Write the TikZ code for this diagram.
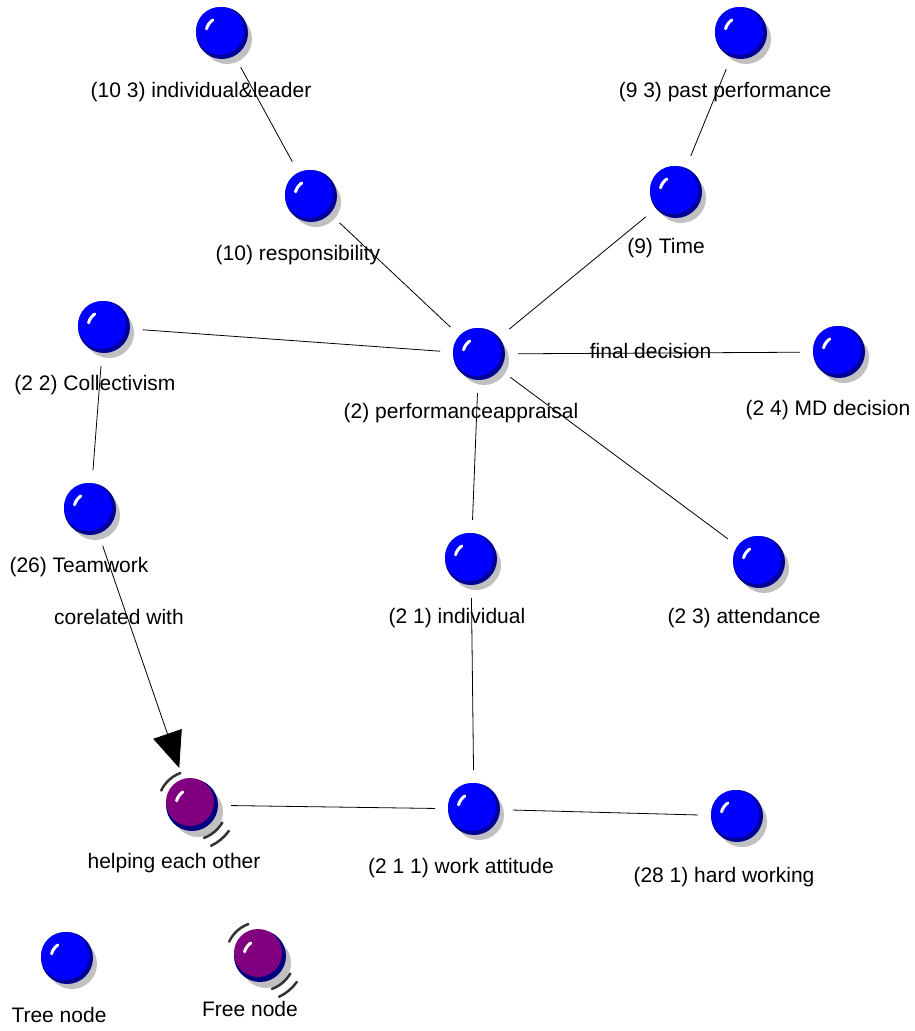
\documentclass[tikz,border=0pt]{standalone}
\usepackage{fontspec}
\setmainfont{Liberation Sans}
\usepackage{tikz}
\usetikzlibrary{calc,arrows.meta}
\definecolor{ballblue}{RGB}{0,0,255}
\definecolor{rimblue}{RGB}{0,0,150}
\definecolor{freepurple}{RGB}{128,0,128}
\definecolor{freerim}{RGB}{0,0,128}
\definecolor{shadowgray}{RGB}{192,192,192}

\begin{document}
\begin{tikzpicture}[x=1pt, y=-1pt,
        line cap=round, line join=round,
        ball/.style={circle, minimum size=78pt, inner sep=0pt},
        lbl/.style={font=\fontsize{21}{23}\selectfont, inner sep=0pt,
            text height=15.2pt, text depth=4.4pt},
        link/.style={black, line width=0.8pt},
        corr/.style={link, -{Triangle[length=36pt,width=30pt]}}]
        \useasboundingbox (0,0) rectangle (914,1031);

        \def\drawTreeBall#1{ % shadow, dark rim, blue ball and shine
        \fill[shadowgray] ($(#1)+(5,6)$) circle (25);
        \fill[rimblue] (#1) circle (26);
        \fill[ballblue] ($(#1)+(-2,-2)$) circle (24);
        \draw[white, line width=3pt] ($(#1)+(195:16)$) arc[start angle=195, end angle=235, radius=16];
        }
        \def\drawFreeBall#1{ % same ball in purple, with motion arcs
        \fill[shadowgray] ($(#1)+(6,7)$) circle (25);
        \fill[freerim] (#1) circle (26);
        \fill[freepurple] ($(#1)+(-2,-3)$) circle (24);
        \draw[white, line width=3pt] ($(#1)+(195:16)$) arc[start angle=195, end angle=235, radius=16];
        \draw[black!80, line width=2.5pt] ($(#1)+(205:34)$) arc[start angle=205, end angle=250, radius=34];
        \draw[black!80, line width=2.5pt] ($(#1)+(30:35)$) arc[start angle=30, end angle=70, radius=35];
        \draw[black!80, line width=2.5pt] ($(#1)+(35:45)$) arc[start angle=35, end angle=65, radius=45];
        }

        % NODES
        \node[ball] (idl) at (222,33) {};
        \node[ball] (resp) at (311,196) {};
        \node[ball] (past) at (741,33) {};
        \node[ball] (time) at (676,192) {};
        \node[ball] (coll) at (104,327) {};
        \node[ball] (perf) at (479,354) {};
        \node[ball] (md) at (839,352) {};
        \node[ball] (team) at (90,509) {};
        \node[ball] (indiv) at (471,559) {};
        \node[ball] (att) at (759,562) {};
        \node[ball] (help) at (192,805) {};
        \node[ball] (work) at (474,809) {};
        \node[ball] (hard) at (737,816) {};
        \node[ball] (treekey) at (67,958) {};
        \node[ball] (freekey) at (260,956) {};

        % LABELS
        \node[lbl] (idlL) at (201,92) {(10 3) individual\&leader};
        \node[lbl] (respL) at (298,255) {(10) responsibility};
        \node[lbl] (pastL) at (725,92) {(9 3) past performance};
        \node[lbl] (timeL) at (666,248) {(9) Time};
        \node[lbl] (collL) at (95,385) {(2 2) Collectivism};
        \node[lbl] (perfL) at (461,413) {(2) performanceappraisal};
        \node[lbl] (mdL) at (828,410) {(2 4) MD decision};
        \node[lbl] (teamL) at (79,567) {(26) Teamwork};
        \node[lbl] (indivL) at (457,618) {(2 1) individual};
        \node[lbl] (attL) at (744,618) {(2 3) attendance};
        \node[lbl] (helpL) at (174,863) {helping each other};
        \node[lbl] (workL) at (461,868) {(2 1 1) work attitude};
        \node[lbl] (hardL) at (724,877) {(28 1) hard working};
        \node[lbl] (treekeyL) at (59,1017) {Tree node};
        \node[lbl] (freekeyL) at (250,1011) {Free node};

        % LINKS
        \draw[link] (idl) -- (resp);
        \draw[link] (resp) -- (perf);
        \draw[link] (past) -- (time);
        \draw[link] (time) -- (perf);
        \draw[link] (coll) -- (perf);
        \draw[link] (perf) -- node[lbl, pos=0.47] (finalL) {final decision} (md);
        \draw[link] (perf) -- (indiv);
        \draw[link] (perf) -- (att);
        \draw[link] (coll) -- (team);
        \draw[corr] (team) -- node[lbl, pos=0.33, xshift=-9pt] (corrL) {corelated with} (help);
        \draw[link] (help) -- (work);
        \draw[link] (indiv) -- (work);
        \draw[link] (work) -- (hard);

        % balls on top
        \foreach \n in {idl,resp,past,time,coll,perf,md,team,indiv,att,work,hard,treekey}{
        \drawTreeBall{\n}
        }
        \foreach \n in {help,freekey}{
        \drawFreeBall{\n}
        }
\end{tikzpicture}
\end{document}
